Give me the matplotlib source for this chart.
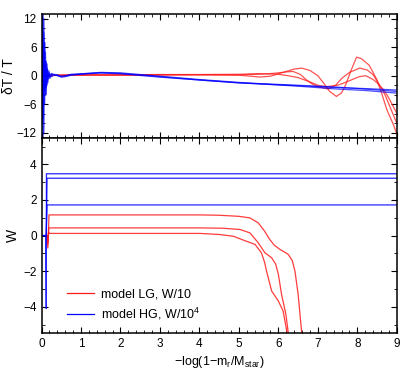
import matplotlib
matplotlib.use("Agg")
import matplotlib.pyplot as plt
from matplotlib.ticker import MultipleLocator

plt.rcParams['font.family'] = ['Liberation Sans', 'DejaVu Sans']
plt.rcParams['mathtext.default'] = 'regular'

# ---------------- top panel data (dT/T) ----------------
xb = [0.0, 0.02, 0.04, 0.06, 0.08, 0.10, 0.12, 0.14, 0.16, 0.19, 0.22, 0.26, 0.30,
      0.40, 0.50, 0.60, 0.75, 1.0, 1.5, 2.0, 3.0, 4.0, 5.0, 5.5, 6.5, 7.5, 8.2, 9.0]
hg_top_1 = [-13, 13, -13, 9, -6, 5, -4, 2.5, -1.5, 1.0, -0.5, 0.5, 0.2, 0.0, -0.2, -0.1,
            0.2, 0.4, 0.6, 0.4, -0.3, -0.9, -1.5, -1.7, -2.1, -2.5, -2.7, -3.0]
hg_top_2 = [0, -10, 13, -12, 7, -4, 3, -2, 1.2, -0.6, 0.4, -0.2, 0.1, 0.1, -0.3, -0.2,
            0.1, 0.3, 0.6, 0.5, -0.2, -0.9, -1.5, -1.7, -2.2, -2.8, -3.1, -3.65]
hg_top_3 = [13, 0, -9, 12, -3, 3, -2.5, 1.5, -0.8, 0.6, -0.2, 0.3, 0.3, 0.2, -0.1, 0,
            0.3, 0.4, 0.7, 0.6, -0.1, -0.8, -1.4, -1.65, -2.0, -2.4, -2.8, -3.3]

lg_top_x1 = [0.1, 0.5, 1, 2, 3, 4, 5, 5.3, 5.53, 5.8, 6.0, 6.2, 6.4, 6.59, 6.8, 7.0, 7.15,
             7.3, 7.47, 7.6, 7.7, 7.85, 7.98, 8.1, 8.3, 8.5, 8.62, 8.75, 8.9, 9.0]
lg_top_y1 = [0.0, 0.1, 0.1, 0.1, 0.15, 0.2, 0.1, -0.1, -0.28, -0.1, 0.4, 0.9, 1.4, 1.6,
             1.1, 0.0, -1.6, -3.3, -4.35, -3.6, -2.0, 1.3, 3.9, 3.6, 2.2, -0.9, -3.8,
             -7.2, -10.0, -12.2]
lg_top_x2 = [0.1, 0.5, 1, 2, 3, 4, 5, 5.5, 5.8, 6.0, 6.2, 6.37, 6.55, 6.7, 6.85, 7.0,
             7.26, 7.45, 7.6, 7.8, 8.06, 8.25, 8.4, 8.55, 8.7, 8.85, 9.0]
lg_top_y2 = [0.0, 0.1, 0.15, 0.15, 0.2, 0.2, 0.2, 0.3, 0.45, 0.6, 0.8, 0.9, 0.3, -0.8,
             -1.7, -2.3, -2.8, -2.0, -0.6, 0.7, 1.6, 1.2, 0.2, -1.8, -4.0, -7.0, -10.0]
lg_top_x3 = [0.1, 0.5, 1, 2, 3, 4, 5, 5.5, 6.0, 6.25, 6.5, 6.8, 7.0, 7.2, 7.5, 7.7,
             7.9, 8.05, 8.21, 8.4, 8.5, 8.65, 8.75, 8.9, 9.0]
lg_top_y3 = [0.0, 0.15, 0.2, 0.2, 0.25, 0.25, 0.3, 0.45, 0.3, 0.0, -0.4, -1.3, -2.0,
             -2.3, -2.0, -1.4, -0.7, -0.2, 0.0, -0.8, -1.5, -2.8, -4.0, -6.3, -7.9]

# ---------------- bottom panel data (W) ----------------
hg_w_x1 = [0.0, 0.11, 0.12, 0.125, 9.0]
hg_w_y1 = [0.0, 0.0, -4.1, 3.47, 3.47]
hg_w_x2 = [0.0, 0.12, 0.14, 9.0]
hg_w_y2 = [0.0, 0.0, 3.22, 3.22]
hg_w_x3 = [0.0, 0.12, 0.14, 9.0]
hg_w_y3 = [0.0, 0.0, 1.72, 1.72]

lg_w_x1 = [0.14, 0.16, 0.18, 0.19, 4.0, 4.5, 5.0, 5.28, 5.49, 5.65, 5.78, 5.9, 6.04,
           6.15, 6.25, 6.35, 6.42, 6.5, 6.59, 6.65]
lg_w_y1 = [0.0, -0.7, 0.5, 1.16, 1.16, 1.14, 1.08, 0.99, 0.71, 0.25, -0.22, -0.55,
           -0.78, -0.92, -1.06, -1.4, -2.0, -3.3, -5.45, -6.5]
lg_w_x2 = [0.14, 0.16, 0.18, 0.19, 4.01, 4.6, 5.03, 5.28, 5.49, 5.66, 5.83, 5.93, 6.0,
           6.08, 6.19, 6.25, 6.3]
lg_w_y2 = [0.0, -0.5, 0.3, 0.43, 0.43, 0.41, 0.34, 0.15, -0.41, -0.97, -1.25, -1.6,
           -2.18, -3.3, -4.43, -5.45, -6.3]
lg_w_x3 = [0.14, 0.16, 0.18, 0.19, 4.01, 4.5, 4.86, 5.19, 5.41, 5.57, 5.65, 5.70, 5.83,
           6.0, 6.12, 6.22, 6.27]
lg_w_y3 = [0.0, -0.4, 0.2, 0.12, 0.12, 0.06, -0.04, -0.32, -0.5, -0.97, -1.5, -2.0,
           -3.12, -3.68, -4.24, -5.45, -6.3]

RED = '#ff1a1a'
BLUE = '#0000ff'

fig = plt.figure(figsize=(4.07, 3.73), dpi=100)
ax1 = fig.add_axes([0.102, 0.631, 0.873, 0.332])
ax2 = fig.add_axes([0.102, 0.106, 0.873, 0.525])

lw = 0.9
for xs, ys in [(lg_top_x1, lg_top_y1), (lg_top_x2, lg_top_y2), (lg_top_x3, lg_top_y3)]:
    ax1.plot(xs, ys, color=RED, lw=lw, alpha=0.75)
for ys in [hg_top_1, hg_top_2, hg_top_3]:
    ax1.plot(xb, ys, color=BLUE, lw=lw, alpha=0.7)

for xs, ys in [(lg_w_x1, lg_w_y1), (lg_w_x2, lg_w_y2), (lg_w_x3, lg_w_y3)]:
    ax2.plot(xs, ys, color=RED, lw=lw, alpha=0.85)
for xs, ys in [(hg_w_x1, hg_w_y1), (hg_w_x2, hg_w_y2), (hg_w_x3, hg_w_y3)]:
    ax2.plot(xs, ys, color=BLUE, lw=lw, alpha=0.85)

ax1.set_xlim(0, 9)
ax1.set_ylim(-13, 13)
ax2.set_xlim(0, 9)
ax2.set_ylim(-5.5, 5.5)

ax1.yaxis.set_major_locator(MultipleLocator(6))
ax1.yaxis.set_minor_locator(MultipleLocator(2))
ax2.yaxis.set_major_locator(MultipleLocator(2))
ax2.yaxis.set_minor_locator(MultipleLocator(1))
for ax in (ax1, ax2):
    ax.xaxis.set_major_locator(MultipleLocator(1))
    ax.xaxis.set_minor_locator(MultipleLocator(0.2))
    ax.tick_params(which='both', direction='in', top=True, right=True, labelsize=8.5)
    ax.tick_params(which='major', length=4, width=0.8)
    ax.tick_params(which='minor', length=2, width=0.6)
    for s in ax.spines.values():
        s.set_linewidth(1.1)
ax1.tick_params(labelbottom=False)
ax1.set_yticks([-12, -6, 0, 6, 12])
ax1.set_yticklabels(['\u221212', '\u22126', '0', '6', '12'])
ax2.set_yticks([-4, -2, 0, 2, 4])
ax2.set_yticklabels(['\u22124', '\u22122', '0', '2', '4'])

ax1.set_ylabel('\u03b4T / T', fontsize=10)
ax1.yaxis.set_label_coords(-0.072, 0.5)
ax2.set_ylabel('W', fontsize=10)
ax2.yaxis.set_label_coords(-0.062, 0.5)
ax2.set_xlabel(r'$-$log(1$-$m$_r$/M$_{star}$)', fontsize=9, labelpad=3)

ax2.plot([], [], color=RED, lw=lw, label='model LG, W/10')
ax2.plot([], [], color=BLUE, lw=lw, label='model HG, W/10$^4$')
h, l = ax2.get_legend_handles_labels()
ax2.legend(h[-2:], l[-2:], loc='lower left', bbox_to_anchor=(0.04, 0.0), frameon=False,
           fontsize=9, handlelength=2.2, handletextpad=0.5, labelspacing=0.45)

fig.savefig('out.png', dpi=100)
